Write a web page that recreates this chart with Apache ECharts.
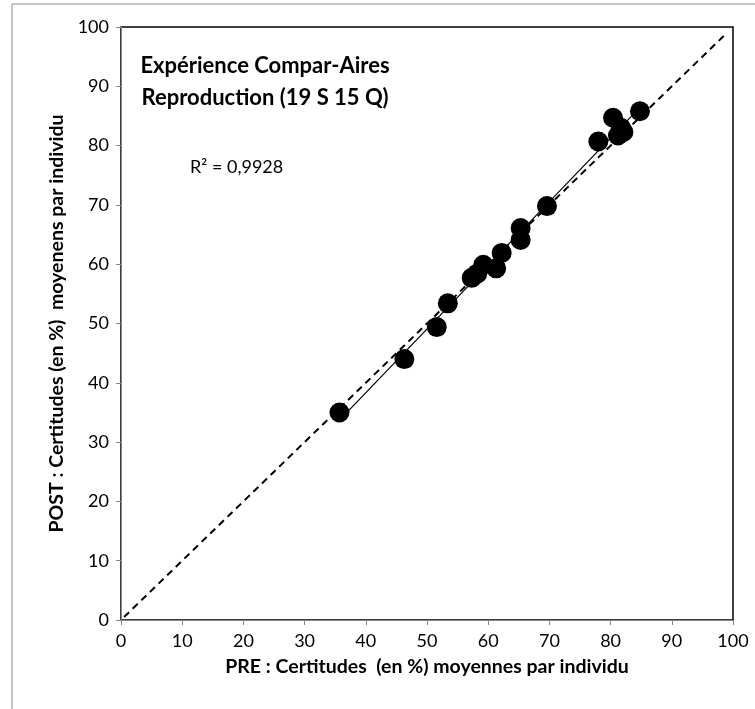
<!DOCTYPE html>
<html>
<head>
<meta charset="utf-8">
<script src="https://cdn.jsdelivr.net/npm/echarts@6/dist/echarts.min.js"></script>
<style>
  html, body { margin: 0; padding: 0; background: #fff; }
  #chart { width: 755px; height: 709px; }
</style>
</head>
<body>
<div id="chart"></div>
<script>
// Mean certainty (%) per participant, before (PRE) and after (POST)
const pre  = [35.7, 46.3, 51.6, 53.4, 57.3, 58.2, 59.2, 61.3, 62.2, 65.3, 65.3, 69.6, 78.0, 80.4, 81.2, 81.7, 82.1, 84.8];
const post = [35.0, 44.0, 49.4, 53.4, 57.7, 58.4, 59.9, 59.3, 61.9, 64.1, 66.1, 69.8, 80.7, 84.7, 81.7, 83.0, 82.3, 85.8];

// Identity reference line y = x
const identity = [[0.5, 0.5], [98.8, 98.8]];

const axisTicks = [0, 10, 20, 30, 40, 50, 60, 70, 80, 90, 100];
const titleLines = ['Expérience Compar-Aires', 'Reproduction (19 S 15 Q)'];
const r2Label = 'R² = 0,9928';
const xTitle = 'PRE : Certitudes  (en %) moyennes par individu';
const yTitle = 'POST : Certitudes (en %)  moyenens par individu';

// Least-squares linear trend over the observed range
function linearFit(xs, ys) {
  const n = xs.length;
  let sx = 0, sy = 0, sxx = 0, sxy = 0;
  for (let i = 0; i < n; i++) {
    sx += xs[i]; sy += ys[i]; sxx += xs[i] * xs[i]; sxy += xs[i] * ys[i];
  }
  const slope = (n * sxy - sx * sy) / (n * sxx - sx * sx);
  const intercept = (sy - slope * sx) / n;
  return { slope, intercept };
}
const fit = linearFit(pre, post);
const xMin = Math.min(...pre), xMax = Math.max(...pre);
const trend = [[xMin, fit.slope * xMin + fit.intercept], [xMax, fit.slope * xMax + fit.intercept]];

const points = pre.map((x, i) => [x, post[i]]);

const FONT = 'Lato, "Open Sans", sans-serif';
const chart = echarts.init(document.getElementById('chart'), null, { renderer: 'canvas' });

const axisCommon = {
  type: 'value',
  min: axisTicks[0],
  max: axisTicks[axisTicks.length - 1],
  interval: axisTicks[1] - axisTicks[0],
  axisLine: { show: true, lineStyle: { color: '#868686', width: 1 } },
  axisTick: { show: true, inside: false, length: 5, lineStyle: { color: '#868686' } },
  splitLine: { show: false },
  nameLocation: 'middle',
  nameTextStyle: { fontFamily: FONT, fontWeight: 'bold', fontSize: 19.5, color: '#000' },
  axisLabel: { fontFamily: FONT, fontSize: 18, color: '#000' }
};

chart.setOption({
  animation: false,
  backgroundColor: '#fff',
  grid: { left: 121, top: 27, right: 22, bottom: 89, show: true, borderColor: '#000', borderWidth: 1.5, containLabel: false },
  xAxis: Object.assign({}, axisCommon, {
    name: xTitle, nameGap: 37,
    axisLabel: Object.assign({}, axisCommon.axisLabel, { margin: 12 })
  }),
  yAxis: Object.assign({}, axisCommon, {
    name: yTitle, nameGap: 46,
    axisLabel: Object.assign({}, axisCommon.axisLabel, { margin: 12 })
  }),
  graphic: [
    {
      type: 'rect', silent: true, z: -10,
      shape: { x: 12, y: 4, width: 760, height: 720 },
      style: { fill: 'none', stroke: '#8c8c8c', lineWidth: 1 }
    },
    {
      type: 'text', silent: true,
      x: 265, y: 50,
      style: {
        text: titleLines.join('\n'), align: 'center', verticalAlign: 'top',
        font: 'bold 22px ' + FONT, fill: '#000', lineHeight: 32
      }
    },
    {
      type: 'text', silent: true,
      x: 190, y: 158,
      style: { text: r2Label, font: '18px ' + FONT, fill: '#000' }
    }
  ],
  series: [
    {
      type: 'line', data: identity, symbol: 'none', silent: true, z: 2,
      lineStyle: { color: '#000', width: 2, type: [7, 5] }
    },
    {
      type: 'line', data: trend, symbol: 'none', silent: true, z: 3,
      lineStyle: { color: '#000', width: 1.2 }
    },
    {
      type: 'scatter', data: points, symbol: 'circle', symbolSize: 20, z: 4,
      itemStyle: { color: '#000', opacity: 1 }
    }
  ]
});
</script>
</body>
</html>
